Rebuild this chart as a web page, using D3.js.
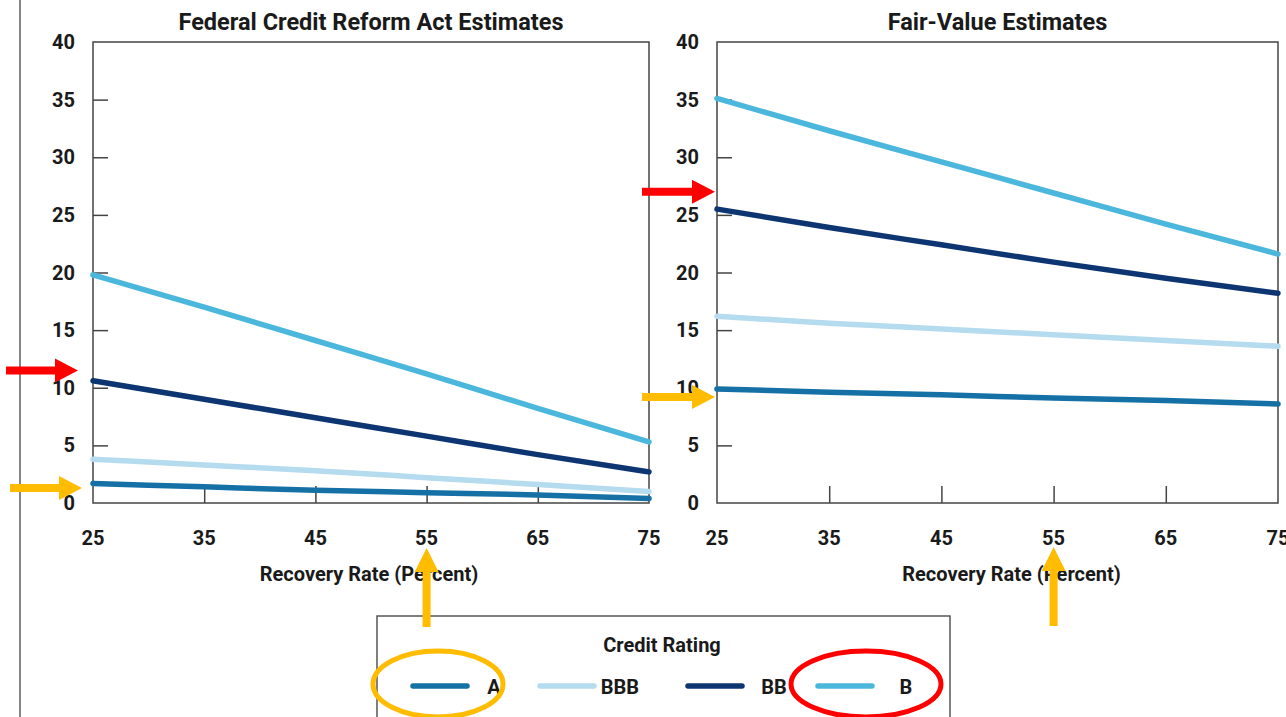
<!DOCTYPE html>
<html lang="en">
<head>
    <meta charset="UTF-8">
    <title>Credit Subsidy Rates</title>
    <script src="https://d3js.org/d3.v7.min.js"></script>
    <style>
        body { margin: 0; background: #fff; }
        text { font-family: 'Roboto', 'Liberation Sans', sans-serif; fill: #1a1a1a; }
    </style>
</head>
<body>
    <div id="chart"></div>
    <script>
        // data
        const recoveryRates = [25, 35, 45, 55, 65, 75];
        const ratings = ["A", "BBB", "BB", "B"];
        const yTicks = [0, 5, 10, 15, 20, 25, 30, 35, 40];
        const xTicks = [25, 35, 45, 55, 65, 75];

        // Federal Credit Reform Act estimates (percent)
        const fcraA   = [1.7, 1.4, 1.1, 0.9, 0.7, 0.4];
        const fcraBBB = [3.8, 3.3, 2.8, 2.2, 1.6, 1.0];
        const fcraBB  = [10.6, 9.0, 7.4, 5.8, 4.2, 2.7];
        const fcraB   = [19.8, 17.0, 14.1, 11.2, 8.2, 5.3];

        // Fair-value estimates (percent)
        const fairA   = [9.9, 9.6, 9.4, 9.1, 8.9, 8.6];
        const fairBBB = [16.2, 15.6, 15.1, 14.6, 14.1, 13.6];
        const fairBB  = [25.5, 23.9, 22.4, 20.9, 19.5, 18.2];
        const fairB   = [35.1, 32.3, 29.6, 26.9, 24.2, 21.6];

        const colors = {A: "#1570a6", BBB: "#b5dbef", BB: "#0d3572", B: "#4bb7dc"};

        const W = 1286, H = 717;
        const svg = d3.select("#chart").append("svg")
            .attr("width", W).attr("height", H);

        // page border line on the far left
        svg.append("line")
            .attr("x1", 20).attr("x2", 20).attr("y1", 0).attr("y2", H)
            .attr("stroke", "#333").attr("stroke-width", 1.2);

        const y = d3.scaleLinear().domain([0, 40]).range([503, 42]);

        const panels = [
            {title: "Federal Credit Reform Act Estimates", x0: 93, x1: 649, labelShift: -2,
             series: {A: fcraA, BBB: fcraBBB, BB: fcraBB, B: fcraB}},
            {title: "Fair-Value Estimates", x0: 717, x1: 1278, labelShift: 14,
             series: {A: fairA, BBB: fairBBB, BB: fairBB, B: fairB}}
        ];

        panels.forEach(p => {
            const x = d3.scaleLinear().domain([25, 75]).range([p.x0, p.x1]);
            p.x = x;
            const g = svg.append("g");

            // frame
            g.append("rect")
                .attr("x", p.x0).attr("y", y(40))
                .attr("width", p.x1 - p.x0).attr("height", y(0) - y(40))
                .attr("fill", "none").attr("stroke", "#444").attr("stroke-width", 1.5);

            // y axis: inward ticks
            const ya = g.append("g")
                .attr("transform", `translate(${p.x0},0)`)
                .call(d3.axisRight(y).tickValues(yTicks).tickSize(15).tickFormat(""));
            ya.select(".domain").remove();
            ya.selectAll(".tick line").attr("stroke", "#444").attr("stroke-width", 1.5)
                .filter(d => d === 0 || d === 40).remove();
            g.selectAll(".ylab").data(yTicks).join("text")
                .attr("x", p.x0 - 18).attr("y", d => y(d) + 7)
                .attr("text-anchor", "end")
                .style("font-size", "20px").style("font-weight", "bold")
                .text(d => d);

            // x axis: upward ticks
            const xa = g.append("g")
                .attr("transform", `translate(0,${y(0)})`)
                .call(d3.axisTop(x).tickValues(xTicks).tickSize(17).tickFormat(""));
            xa.select(".domain").remove();
            xa.selectAll(".tick line").attr("stroke", "#444").attr("stroke-width", 1.5)
                .filter(d => d === 25 || d === 75).remove();
            g.selectAll(".xlab").data(xTicks).join("text")
                .attr("x", d => x(d)).attr("y", 545)
                .attr("text-anchor", "middle")
                .style("font-size", "20px").style("font-weight", "bold")
                .text(d => d);

            // titles
            g.append("text")
                .attr("x", (p.x0 + p.x1) / 2).attr("y", 30)
                .attr("text-anchor", "middle")
                .style("font-size", "23.5px").style("font-weight", "bold")
                .text(p.title);
            g.append("text")
                .attr("x", (p.x0 + p.x1) / 2 + p.labelShift).attr("y", 581)
                .attr("text-anchor", "middle")
                .style("font-size", "20px").style("font-weight", "bold")
                .text("Recovery Rate (Percent)");

            // series lines
            const line = d3.line()
                .x((d, i) => x(recoveryRates[i]))
                .y(d => y(d))
                .curve(d3.curveMonotoneX);
            ratings.forEach(r => {
                g.append("path")
                    .datum(p.series[r])
                    .attr("d", line)
                    .attr("fill", "none")
                    .attr("stroke", colors[r])
                    .attr("stroke-width", 5.5)
                    .attr("stroke-linecap", "round");
            });
        });

        // legend
        const lg = svg.append("g");
        lg.append("rect")
            .attr("x", 377).attr("y", 616).attr("width", 573).attr("height", 130)
            .attr("fill", "#fff").attr("stroke", "#555").attr("stroke-width", 1.5);
        lg.append("text")
            .attr("x", 662).attr("y", 652).attr("text-anchor", "middle")
            .style("font-size", "20px").style("font-weight", "bold")
            .text("Credit Rating");
        // swatch start and label centre for each rating
        const legendSwatchX = [413, 540, 688, 818];
        const legendLabelX = [494, 620, 774, 906];
        ratings.forEach((r, i) => {
            const lx = legendSwatchX[i];
            lg.append("line")
                .attr("x1", lx).attr("x2", lx + 54).attr("y1", 686).attr("y2", 686)
                .attr("stroke", colors[r]).attr("stroke-width", 5.5)
                .attr("stroke-linecap", "round");
            lg.append("text")
                .attr("x", legendLabelX[i]).attr("y", 694).attr("text-anchor", "middle")
                .style("font-size", "20px").style("font-weight", "bold")
                .text(r);
        });

        // annotations
        const red = "#fe0000", orange = "#ffbc00";
        function arrowRight(tipX, tipY, len, color) {
            svg.append("path")
                .attr("d", `M${tipX - len},${tipY - 4} L${tipX - 23},${tipY - 4} L${tipX - 23},${tipY - 12}
                    L${tipX},${tipY} L${tipX - 23},${tipY + 12} L${tipX - 23},${tipY + 4} L${tipX - len},${tipY + 4} Z`)
                .attr("fill", color);
        }
        function arrowUp(tipX, tipY, len, color) {
            svg.append("path")
                .attr("d", `M${tipX - 4},${tipY + len} L${tipX - 4},${tipY + 24} L${tipX - 12},${tipY + 24}
                    L${tipX},${tipY} L${tipX + 12},${tipY + 24} L${tipX + 4},${tipY + 24} L${tipX + 4},${tipY + len} Z`)
                .attr("fill", color);
        }
        const left = panels[0], right = panels[1];
        arrowRight(left.x0 - 15, y(11.5), 72, red);
        arrowRight(left.x0 - 11, y(1.3), 72, orange);
        arrowRight(right.x0 - 2, y(27), 73, red);
        arrowRight(right.x0 - 2, y(9.2), 73, orange);
        arrowUp(left.x(55), 548, 79, orange);
        arrowUp(right.x(55), 547, 79, orange);

        svg.append("ellipse")
            .attr("cx", 438).attr("cy", 684).attr("rx", 65).attr("ry", 33)
            .attr("fill", "none").attr("stroke", orange).attr("stroke-width", 5);
        svg.append("ellipse")
            .attr("cx", 866).attr("cy", 684).attr("rx", 75).attr("ry", 33)
            .attr("fill", "none").attr("stroke", red).attr("stroke-width", 5);
    </script>
</body>
</html>
